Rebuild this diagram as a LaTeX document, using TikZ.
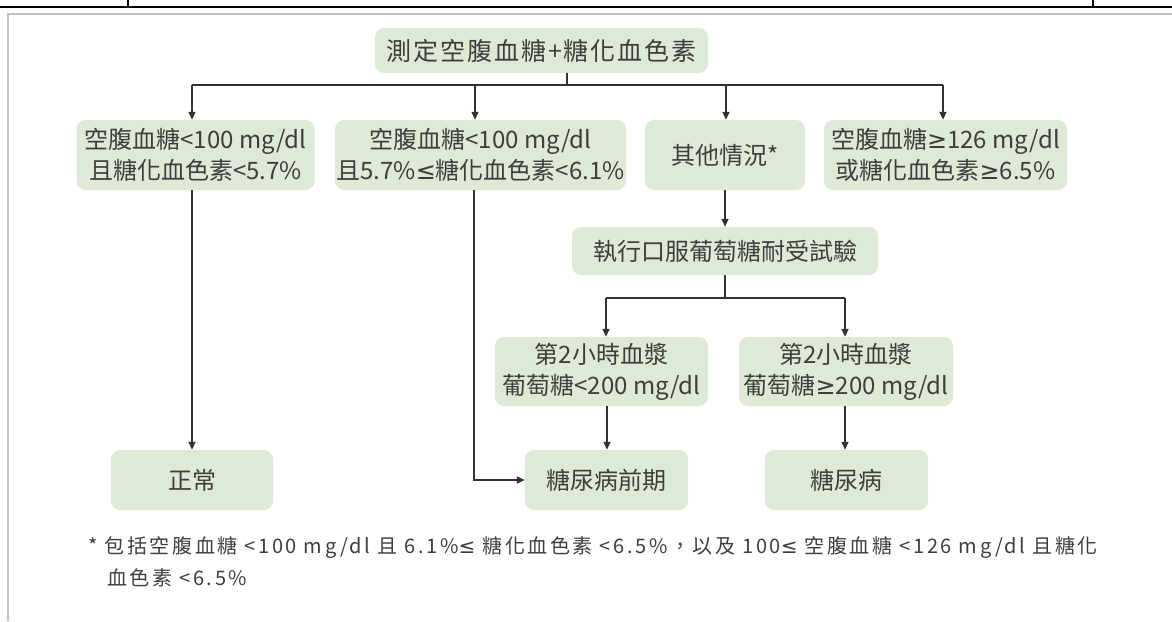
\documentclass[tikz,border=0pt]{standalone}
\usepackage{fontspec}
\setmainfont{Noto Sans CJK TC}
\newfontfamily\lgsym{DejaVu Sans}
\newcommand\myle{{\lgsym ≤}}
\newcommand\myge{{\lgsym ≥}}
\usetikzlibrary{arrows.meta}
\definecolor{boxfill}{RGB}{222,233,214}
\definecolor{txtc}{RGB}{62,62,62}
\definecolor{linec}{RGB}{50,50,50}
\definecolor{framec}{RGB}{192,192,192}
\begin{document}
\begin{tikzpicture}[x=1pt,y=-1pt,
  box/.style={fill=boxfill, rounded corners=9pt, text=txtc, align=center, inner sep=0pt,
    font=\fontsize{24}{31}\selectfont},
  conn/.style={draw=linec, line width=1.4pt},
  arr/.style={conn, -{Triangle[length=8pt,width=7pt]}},
  note/.style={anchor=west, text=txtc, inner sep=0pt,
    font=\fontsize{20}{24}\selectfont\addfontfeature{LetterSpace=13}}]
\useasboundingbox (0,0) rectangle (1172,621);
% page frame
\draw[black, line width=2.5pt] (0,7) -- (1172,7);
\draw[black, line width=2.5pt] (128,0) -- (128,7);
\draw[black, line width=2.5pt] (1093,0) -- (1093,7);
\draw[framec, line width=2.5pt] (8,621) -- (8,14) -- (1172,14);

% nodes
\node[box, minimum width=333pt, minimum height=45pt, font=\fontsize{25}{30}\selectfont\addfontfeature{LetterSpace=8}] (top) at (541.5,50.5) {測定空腹血糖+糖化血色素};
\node[box, minimum width=238pt, minimum height=70pt] (b1) at (195.5,155) {空腹血糖<100 mg/dl\\且糖化血色素<5.7\%};
\node[box, minimum width=291pt, minimum height=70pt] (b2) at (480.5,155) {空腹血糖<100 mg/dl\\且5.7\%\myle 糖化血色素<6.1\%};
\node[box, minimum width=160pt, minimum height=70pt] (b3) at (725,155) {其他情況*};
\node[box, minimum width=243pt, minimum height=70pt] (b4) at (945.5,155) {空腹血糖\myge 126 mg/dl\\或糖化血色素\myge 6.5\%};
\node[box, minimum width=306pt, minimum height=48pt] (ogtt) at (725,251) {執行口服葡萄糖耐受試驗};
\node[box, minimum width=213pt, minimum height=69pt] (c1) at (601.5,371.5) {第2小時血漿\\葡萄糖<200 mg/dl};
\node[box, minimum width=214pt, minimum height=69pt] (c2) at (846,371.5) {第2小時血漿\\葡萄糖\myge 200 mg/dl};
\node[box, minimum width=162pt, minimum height=60pt] (nrm) at (192,480) {正常};
\node[box, minimum width=163pt, minimum height=60pt] (pre) at (606.5,480) {糖尿病前期};
\node[box, minimum width=163pt, minimum height=60pt] (dm) at (846.5,480) {糖尿病};

\node[note] (fn1) at (88,548) {* 包括空腹血糖 <100 mg/dl 且 6.1\%\myle\ 糖化血色素 <6.5\%，以及 100\myle\ 空腹血糖 <126 mg/dl 且糖化};
\node[note] (fn2) at (107,578) {血色素 <6.5\%};

% junctions
\coordinate (s0) at (567,85);
\coordinate (j1) at (192,85);
\coordinate (j2) at (475,85);
\coordinate (j3) at (726,85);
\coordinate (j4) at (943,85);
\coordinate (k0) at (725,298);
\coordinate (k1) at (606,298);
\coordinate (k2) at (845,298);

% connectors
\draw[conn] (top.south -| s0) -- (s0);
\draw[conn] (j1) -- (j4);
\draw[arr] (j1) -- (j1 |- b1.north);
\draw[arr] (j2) -- (j2 |- b2.north);
\draw[arr] (j3) -- (j3 |- b3.north);
\draw[arr] (j4) -- (j4 |- b4.north);
\draw[arr] (b1.south -| j1) -- (nrm.north -| j1);
\draw[arr] (b2.south -| 474,0) |- (pre.west);
\draw[arr] (b3.south -| k0) -- (ogtt.north -| k0);
\draw[conn] (ogtt.south -| k0) -- (k0);
\draw[conn] (k1) -- (k2);
\draw[arr] (k1) -- (k1 |- c1.north);
\draw[arr] (k2) -- (k2 |- c2.north);
\draw[arr] (c1.south -| 607,0) -- (pre.north -| 607,0);
\draw[arr] (c2.south -| k2) -- (dm.north -| k2);
\end{tikzpicture}
\end{document}
